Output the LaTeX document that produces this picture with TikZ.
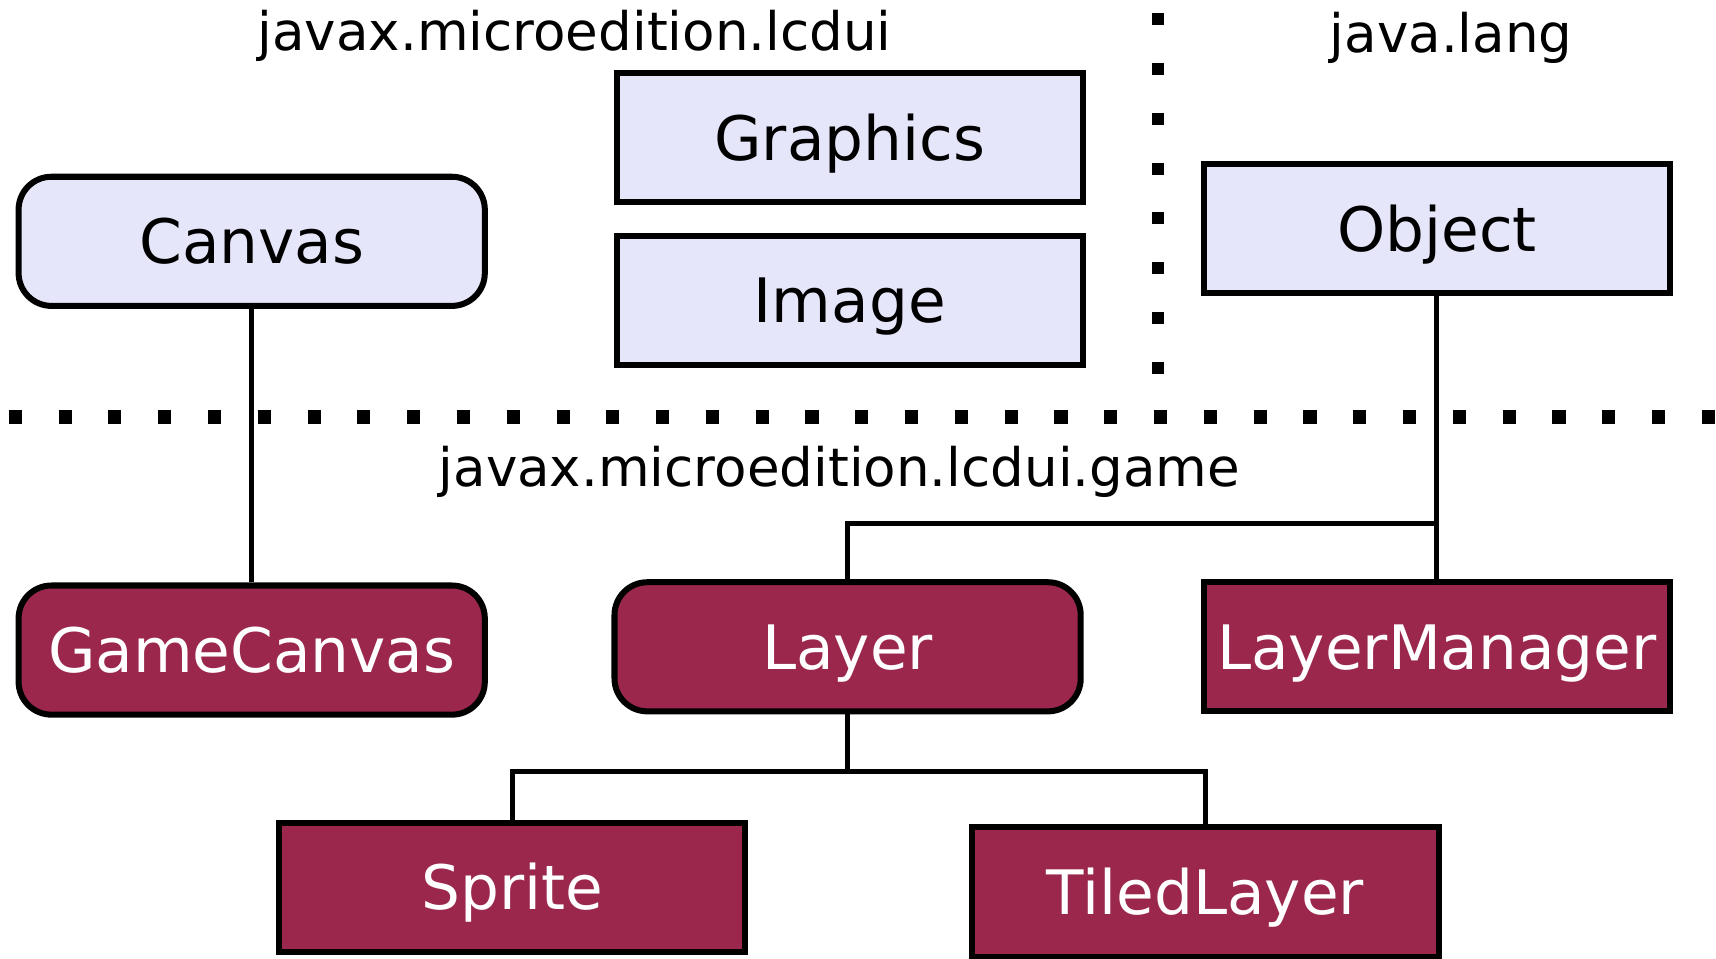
\documentclass[tikz,border=0pt]{standalone}
\usepackage{fontspec}
\setmainfont{DejaVu Sans}
\definecolor{lav}{RGB}{230,230,250}
\definecolor{maroon}{RGB}{155,40,76}
\begin{document}
\begin{tikzpicture}[x=1pt,y=-1pt,
  box/.style={draw=black,line width=5.5pt,minimum width=426pt,minimum height=118pt,inner sep=0pt,text height=41pt,text depth=0pt,font=\fontsize{56}{60}\selectfont},
  libbox/.style={box,fill=lav,text=black},
  gamebox/.style={box,fill=maroon,text=white},
  rnd/.style={rounded corners=30pt},
  pkg/.style={font=\fontsize{48.5}{54}\selectfont,inner sep=0pt},
  conn/.style={line width=4.5pt},
  sep/.style={line width=12pt,dash pattern=on 12pt off 33.5pt}]
\useasboundingbox (0,0) rectangle (1568,876);
\draw[sep] (8,381) -- (1568,381);
\draw[line width=11pt,dash pattern=on 11pt off 34.5pt] (1058,12) -- (1058,345);
\node[pkg] (lcdui) at (525,33) {javax.microedition.lcdui};
\node[pkg] (lang) at (1326,35) {java.lang};
\node[pkg] (game) at (767,431) {javax.microedition.lcdui.game};
\node[libbox] (Graphics) at (776.5,126) {Graphics};
\node[libbox] (Image) at (776.5,274.5) {Image};
\node[libbox,rnd] (Canvas) at (230,220.5) {Canvas};
\node[libbox] (Object) at (1313,209) {Object};
\node[gamebox,rnd] (GameCanvas) at (230,594) {GameCanvas};
\node[gamebox,rnd] (Layer) at (774.5,591) {Layer};
\node[gamebox] (LayerManager) at (1313,591) {LayerManager};
\node[gamebox] (Sprite) at (468,811) {Sprite};
\node[gamebox] (TiledLayer) at (1101.5,815) {TiledLayer};
\coordinate (j1) at (1313,478);
\coordinate (j2) at (774.5,705);
\draw[conn] (Canvas.south) -- (GameCanvas.north);
\draw[conn] (Object.south) -- (LayerManager.north);
\draw[conn] (j1) -| (Layer.north);
\draw[conn] (Layer.south) -- (j2);
\draw[conn] (Sprite.north) |- (j2) -| (TiledLayer.north);
\end{tikzpicture}
\end{document}
